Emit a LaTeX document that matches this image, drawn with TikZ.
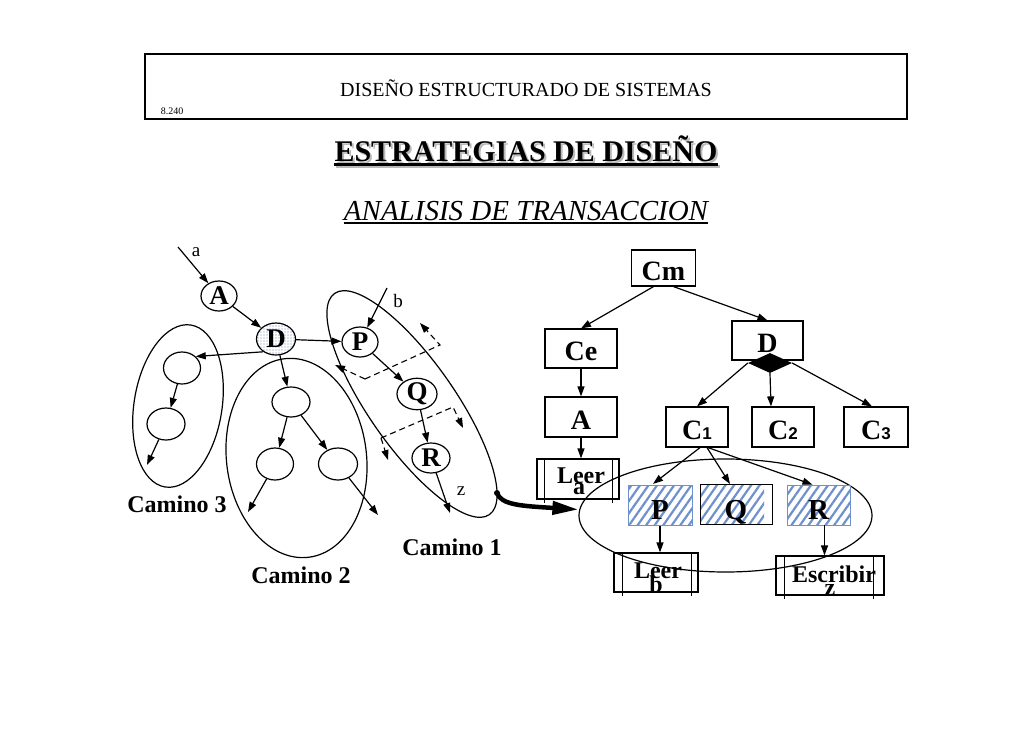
\documentclass[tikz,border=0pt]{standalone}
\usepackage{fontspec}
\setmainfont{Liberation Serif}
\newfontfamily\sansf{Liberation Sans}
\usetikzlibrary{shapes.geometric,arrows.meta,patterns.meta,calc}
\definecolor{hatchblue}{RGB}{110,145,205}
\definecolor{dotblue}{RGB}{110,130,180}
\begin{document}
\begin{tikzpicture}[x=1pt,y=-1pt,
  arr/.style={-{Triangle[length=10pt,width=7pt]}, line width=1.2pt},
  enode/.style={draw, ellipse, inner sep=0pt, line width=1.2pt, font=\fontsize{27}{30}\selectfont\bfseries},
  grpell/.style={draw, ellipse, inner sep=0pt, line width=1.2pt},
  tbox/.style={draw, rectangle, inner sep=0pt, line width=1.2pt, font=\fontsize{28}{30}\selectfont\bfseries, text height=24pt, text depth=0pt},
  hbox/.style={rectangle, inner sep=0pt, font=\fontsize{29}{30}\selectfont\bfseries, text height=29pt, text depth=0pt},
  hatch/.style={pattern={Lines[angle=55,distance=7pt,line width=2.2pt]}, pattern color=hatchblue},
  cam/.style={font=\fontsize{24}{28}\selectfont\bfseries, inner sep=0pt},
  smalllbl/.style={font=\fontsize{19}{22}\selectfont, inner sep=0pt},
  btext/.style={font=\fontsize{24}{26}\selectfont\bfseries, anchor=base, inner sep=0pt},
  dsh/.style={dash pattern=on 6pt off 4pt, line width=1.1pt, -{Triangle[length=10pt,width=7pt]}},
  rail/.style={line width=1.2pt}
]
\useasboundingbox (0,0) rectangle (1030,728);
\fill[white] (0,0) rectangle (1030,728);

% header
\node[draw, line width=1.1pt, minimum width=762pt, minimum height=65pt, inner sep=0pt] (hdr) at (526,86.5) {};
\node[anchor=base, font=\fontsize{20}{24}\selectfont, inner sep=0pt] (htitle) at (526,96) {DISEÑO ESTRUCTURADO DE SISTEMAS};
\node[anchor=base, font=\fontsize{10}{12}\selectfont, inner sep=0pt] (hnum) at (172,114) {8.240};

% title with shadow
\node[anchor=base, inner sep=0pt, font=\fontsize{30}{34}\selectfont\bfseries, text=gray!55] (t1s) at (528,163) {ESTRATEGIAS DE DISEÑO};
\draw[gray!55, line width=3pt] ($(t1s.base west)+(0,3)$) -- ($(t1s.base east)+(0,3)$);
\node[anchor=base, inner sep=0pt, font=\fontsize{30}{34}\selectfont\bfseries] (t1) at (526,161) {ESTRATEGIAS DE DISEÑO};
\draw[line width=3pt] ($(t1.base west)+(0,3)$) -- ($(t1.base east)+(0,3)$);

\node[anchor=base, inner sep=0pt, font=\fontsize{29}{32}\selectfont\itshape] (t2) at (526,220) {ANALISIS DE TRANSACCION};
\draw[line width=1.5pt] ($(t2.base west)+(0,3)$) -- ($(t2.base east)+(0,3)$);

% ---------- left graph ----------
\node[grpell, minimum width=270pt, minimum height=86pt, rotate=-55] (cam1) at (412,404) {};
\node[grpell, minimum width=140pt, minimum height=200pt, rotate=7] (cam2) at (296.5,458) {};
\node[grpell, minimum width=88pt, minimum height=164pt, rotate=-9] (cam3) at (178,406) {};

\node[enode, minimum width=36pt, minimum height=30pt] (A) at (219,296) {A};
\node[enode, minimum width=39pt, minimum height=32pt, pattern={Dots[distance=3pt,radius=0.6pt]}, pattern color=dotblue] (D) at (276,339) {D};
\node[enode, minimum width=36pt, minimum height=30pt] (P) at (360,342) {P};
\node[enode, minimum width=40pt, minimum height=29pt] (Q) at (417,394) {Q};
\node[enode, minimum width=38pt, minimum height=30pt] (R) at (431,458) {R};
\node[enode, minimum width=37pt, minimum height=32pt] (c3a) at (182,368) {};
\node[enode, minimum width=38pt, minimum height=32pt] (c3b) at (166,424) {};
\node[enode, minimum width=38pt, minimum height=30pt] (c2t) at (291,402) {};
\node[enode, minimum width=37pt, minimum height=32pt] (c2l) at (275,464) {};
\node[enode, minimum width=39pt, minimum height=32pt] (c2r) at (338,464) {};

\coordinate (ain) at (178,247);
\coordinate (bin) at (387,288);
\coordinate (zout) at (450,513);
\coordinate (c3out) at (147,465);
\coordinate (c2lout) at (248,512);
\coordinate (c2rout) at (378,515);

\draw[arr] (ain) -- (A);
\draw[arr] (A) -- (D);
\draw[arr] (D) -- (P);
\draw[arr] (D.225) -- (c3a.40);
\draw[arr] (D) -- (c2t);
\draw[arr] (bin) -- (P);
\draw[arr] (P) -- (Q);
\draw[arr] (Q) -- (R);
\draw[arr] (R) -- (zout);
\draw[arr] (c3a) -- (c3b);
\draw[arr] (c3b) -- (c3out);
\draw[arr] (c2t) -- (c2l);
\draw[arr] (c2t) -- (c2r);
\draw[arr] (c2l) -- (c2lout);
\draw[arr] (c2r) -- (c2rout);

\node[smalllbl] (la) at (196,252) {a};
\node[smalllbl] (lb) at (398,301) {b};
\node[smalllbl] (lz) at (461,491) {z};

% dashed arrows
\coordinate (u1) at (335,365);
\coordinate (uc) at (365,379);
\coordinate (u2) at (440,345);
\coordinate (u3) at (420,323);
\draw[dsh] (uc) -- (u1);
\draw[dsh] (uc) -- (u2) -- (u3);
\coordinate (l1) at (388,460);
\coordinate (lc) at (381,438);
\coordinate (l2) at (453,407);
\coordinate (l3) at (463,428);
\draw[dsh] (lc) -- (l1);
\draw[dsh] (lc) -- (l2) -- (l3);

\node[cam] (k3) at (177,504) {Camino 3};
\node[cam] (k2) at (301,575) {Camino 2};
\node[cam] (k1) at (452,547) {Camino 1};

% ---------- right tree ----------
\node[tbox, minimum width=64pt, minimum height=36pt] (Cm) at (663.5,268) {Cm};
\node[tbox, minimum width=72pt, minimum height=39pt] (Ce) at (581,348.5) {Ce};
\node[tbox, minimum width=71pt, minimum height=39pt] (Dbox) at (767.5,340.5) {D};
\node[diamond, fill=black, minimum width=44pt, minimum height=20pt, inner sep=0pt] (dia) at (770,363) {};
\node[tbox, minimum width=72pt, minimum height=40pt] (Abox) at (581,417) {A};
\node[tbox, minimum width=62pt, minimum height=40pt] (C1) at (697,427) {C{\sansf\bfseries\fontsize{17}{20}\selectfont 1}};
\node[tbox, minimum width=62pt, minimum height=40pt] (C2) at (783,427) {C{\sansf\bfseries\fontsize{17}{20}\selectfont 2}};
\node[tbox, minimum width=64pt, minimum height=40pt] (C3) at (876,427) {C{\sansf\bfseries\fontsize{17}{20}\selectfont 3}};

% Leer a
\node[draw, line width=1.2pt, minimum width=82pt, minimum height=40pt, inner sep=0pt] (Leera) at (578,479) {};
\draw[rail] ([xshift=8pt]Leera.north west) -- ([xshift=8pt,yshift=-3pt]Leera.south west);
\draw[rail] ([xshift=-7pt]Leera.north east) -- ([xshift=-7pt,yshift=-3pt]Leera.south east);
\node[btext] (la1) at (581,483) {Leer};
\node[btext] (la2) at (579,494) {a};

% group ellipse
\node[grpell, minimum width=293pt, minimum height=113pt] (grp) at (725.5,515.5) {};

% hatched boxes
\node[hbox, draw=hatchblue, line width=0.8pt, hatch, minimum width=64pt, minimum height=40pt] (hP) at (660,505) {P};
\path[hatch] (700,484.5) rectangle (764,524.5);
\node[hbox, draw, line width=1pt, minimum width=72pt, minimum height=40pt] (hQ) at (736,504.5) {Q};
\node[hbox, draw=hatchblue, line width=0.8pt, hatch, minimum width=63pt, minimum height=40pt] (hR) at (818.5,505) {R};

% Leer b
\node[draw, line width=1.2pt, minimum width=84pt, minimum height=39pt, inner sep=0pt] (Leerb) at (656,572.5) {};
\draw[rail] ([xshift=9pt]Leerb.north west) -- ([xshift=9pt,yshift=-3pt]Leerb.south west);
\draw[rail] ([xshift=-7pt]Leerb.north east) -- ([xshift=-7pt,yshift=-3pt]Leerb.south east);
\node[btext] (lb1) at (658,578) {Leer};
\node[btext] (lb2) at (656,592) {b};

% Escribir z
\node[draw, line width=1.2pt, minimum width=108pt, minimum height=39pt, inner sep=0pt] (Esc) at (830,575.5) {};
\draw[rail] ([xshift=9pt]Esc.north west) -- ([xshift=9pt,yshift=-3pt]Esc.south west);
\draw[rail] ([xshift=-11pt]Esc.north east) -- ([xshift=-11pt,yshift=-3pt]Esc.south east);
\node[btext] (le1) at (834,582) {Escribir};
\node[btext] (le2) at (830,595) {z};

% tree arrows
\draw[arr] ([xshift=-10pt]Cm.south) -- (Ce.north);
\draw[arr] ([xshift=10pt]Cm.south) -- (Dbox.north);
\draw[arr] (Ce.south) -- (Abox.north);
\draw[arr] (Abox.south) -- (Abox.south |- Leera.north);
\draw[arr] (dia.west) -- (C1.north);
\draw[arr] (dia.south) -- ([xshift=-12pt]C2.north);
\draw[arr] (dia.east) -- ([xshift=-4pt]C3.north);
\draw[arr] ([xshift=3pt]C1.south) -- ([xshift=-7pt]hP.north);
\draw[arr] ([xshift=10pt]C1.south) -- ([xshift=-6pt]hQ.north);
\draw[arr] ([xshift=11pt]C1.south) -- ([xshift=-6pt]hR.north);
\draw[arr] (hP.south) -- (hP.south |- Leerb.north);
\draw[arr] ([xshift=6pt]hR.south) -- ([xshift=6pt]hR.south |- Esc.north);

% thick arrow from Camino 1 to group
\coordinate (c1e) at (497,493);
\fill (c1e) circle (3pt);
\draw[line width=4.5pt, -{Triangle[length=26pt,width=13pt]}] (c1e) .. controls (501,505) and (522,506) .. ([yshift=6pt]grp.west);
\end{tikzpicture}
\end{document}
